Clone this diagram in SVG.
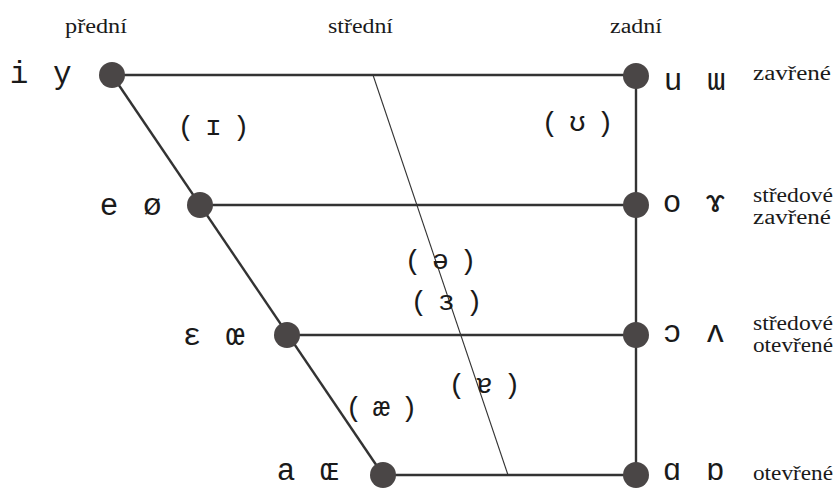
<svg xmlns="http://www.w3.org/2000/svg" width="836" height="489" viewBox="0 0 836 489">
<style>
.ln{stroke:#333;stroke-width:2.4;fill:none}
.thin{stroke:#333;stroke-width:1.1;fill:none}
.dot{fill:#4a4646}
.v{font-family:"Liberation Mono","DejaVu Sans Mono",monospace;font-size:31px;fill:#1a1a1a;letter-spacing:3px}
.p{font-family:"Liberation Mono","DejaVu Sans Mono",monospace;font-size:28px;fill:#1a1a1a;letter-spacing:-3px;text-anchor:middle}
.h{font-family:"Liberation Serif","DejaVu Serif",serif;font-size:20px;fill:#1a1a1a}
</style>
<rect width="836" height="489" fill="#fff"/>
<g id="connectors">
<line class="ln" x1="112" y1="75" x2="636" y2="75"/>
<line class="ln" x1="200" y1="205" x2="636" y2="205"/>
<line class="ln" x1="287" y1="335" x2="636" y2="335"/>
<line class="ln" x1="383" y1="475" x2="636" y2="475"/>
<line class="ln" x1="112" y1="75" x2="383" y2="475"/>
<line class="ln" x1="636" y1="75" x2="636" y2="475"/>
<line class="thin" x1="373" y1="75" x2="508" y2="475"/>
</g>
<g id="headers">
<text class="h" x="65" y="33" textLength="62" lengthAdjust="spacingAndGlyphs">přední</text>
<text class="h" x="328" y="33" textLength="65" lengthAdjust="spacingAndGlyphs">střední</text>
<text class="h" x="610" y="33" textLength="52" lengthAdjust="spacingAndGlyphs">zadní</text>
</g>
<g id="n-iy"><circle class="dot" cx="112" cy="75" r="13"/><text class="v" x="9.7" y="83">i y</text></g>
<g id="n-uw"><circle class="dot" cx="636" cy="76" r="13"/><text class="v" x="663.7" y="90">u ɯ</text></g>
<g id="n-eo"><circle class="dot" cx="200" cy="205" r="13"/><text class="v" x="99.7" y="215">e ø</text></g>
<g id="n-og"><circle class="dot" cx="636" cy="205" r="13"/><text class="v" x="662.7" y="212">o ɤ</text></g>
<g id="n-Eoe"><circle class="dot" cx="287" cy="335" r="13"/><text class="v" x="182.7" y="345">ɛ œ</text></g>
<g id="n-cv"><circle class="dot" cx="636" cy="335" r="13"/><text class="v" x="662.7" y="342">ɔ ʌ</text></g>
<g id="n-aOE"><circle class="dot" cx="383" cy="475" r="13"/><text class="v" x="276.7" y="480">a ɶ</text></g>
<g id="n-AD"><circle class="dot" cx="636" cy="475" r="13"/><text class="v" x="662.7" y="480">ɑ ɒ</text></g>
<g id="paren">
<text class="p" x="212" y="135">( ɪ )</text>
<text class="p" x="576" y="131">( ʊ )</text>
<text class="p" x="439" y="269">( ə )</text>
<text class="p" x="445" y="310">( ɜ )</text>
<text class="p" x="483" y="393">( ɐ )</text>
<text class="p" x="380" y="416">( æ )</text>
</g>
<g id="heights">
<text class="h" x="753" y="80" textLength="78" lengthAdjust="spacingAndGlyphs">zavřené</text>
<text class="h" x="753" y="202" textLength="80" lengthAdjust="spacingAndGlyphs">středové</text>
<text class="h" x="753" y="224" textLength="78" lengthAdjust="spacingAndGlyphs">zavřené</text>
<text class="h" x="753" y="330" textLength="80" lengthAdjust="spacingAndGlyphs">středové</text>
<text class="h" x="753" y="352" textLength="80" lengthAdjust="spacingAndGlyphs">otevřené</text>
<text class="h" x="753" y="480" textLength="80" lengthAdjust="spacingAndGlyphs">otevřené</text>
</g>
</svg>
